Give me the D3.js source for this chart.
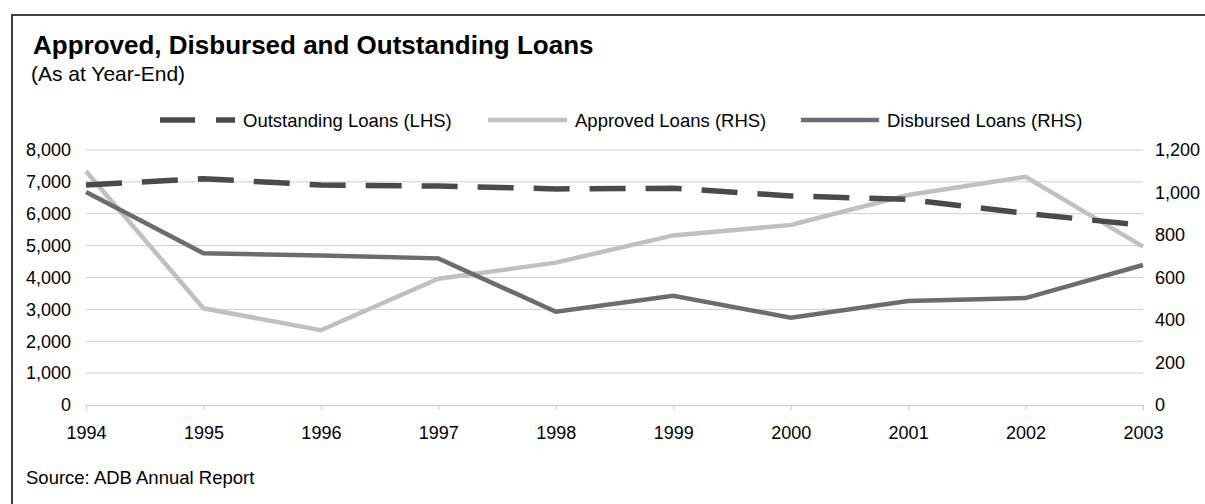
<!DOCTYPE html>
<html><head><meta charset="utf-8">
<script src="https://cdn.jsdelivr.net/npm/d3@7"></script>
<style>body{margin:0;background:#fff}svg{font-family:"Liberation Sans",Arial,sans-serif}</style>
</head><body><svg id="c" width="1205" height="504"></svg>
<script>
const years = [1994,1995,1996,1997,1998,1999,2000,2001,2002,2003];
const outstanding = [6900,7100,6900,6870,6780,6800,6560,6450,6010,5640];
const approved = [1100,455,352,594,670,798,847,988,1074,745];
const disbursed = [1002,714,704,690,439,514,411,489,503,659];
const leftTicks = [0,1000,2000,3000,4000,5000,6000,7000,8000];
const rightTicks = [0,200,400,600,800,1000,1200];

const FF = "Liberation Sans, Arial, sans-serif";
const svg = d3.select("#c");
svg.append("rect").attr("x",12).attr("y",15).attr("width",1210).attr("height",520)
  .attr("fill","#fff").attr("stroke","#404040").attr("stroke-width",2);

svg.append("text").attr("x",33).attr("y",54).attr("font-size",26).attr("font-weight","bold").attr("fill","#000")
  .text("Approved, Disbursed and Outstanding Loans");
svg.append("text").attr("x",31).attr("y",81).attr("font-size",21).attr("fill","#000").text("(As at Year-End)");

const x = d3.scaleLinear().domain([1994,2003]).range([86,1143]);
const yL = d3.scaleLinear().domain([0,8000]).range([405,150]);
const yR = d3.scaleLinear().domain([0,1200]).range([405,150]);

// gridlines
svg.append("g").selectAll("line").data(leftTicks.filter(d=>d>0)).join("line")
  .attr("x1",86).attr("x2",1143).attr("y1",d=>yL(d)).attr("y2",d=>yL(d))
  .attr("stroke","#cfcfcf").attr("stroke-width",1);

// x axis
const xa = svg.append("g").attr("transform","translate(0,405)")
  .call(d3.axisBottom(x).tickValues(years).tickFormat(d3.format("d")).tickSize(5).tickSizeOuter(0).tickPadding(16));
xa.select(".domain").attr("stroke","#c8c8c8");
xa.selectAll(".tick line").attr("stroke","#c8c8c8");
xa.selectAll("text").attr("font-size",18).attr("fill","#000").attr("font-family",FF);

const la = svg.append("g").attr("transform","translate(86,0)")
  .call(d3.axisLeft(yL).tickValues(leftTicks).tickFormat(d3.format(",")).tickSize(0).tickPadding(15));
la.select(".domain").remove();
la.selectAll("text").attr("font-size",18).attr("fill","#000").attr("font-family",FF);

const ra = svg.append("g").attr("transform","translate(1143,0)")
  .call(d3.axisRight(yR).tickValues(rightTicks).tickFormat(d3.format(",")).tickSize(0).tickPadding(12));
ra.select(".domain").remove();
ra.selectAll("text").attr("font-size",18).attr("fill","#000").attr("font-family",FF);

const lineL = d3.line().x((d,i)=>x(years[i])).y(d=>yL(d));
const lineR = d3.line().x((d,i)=>x(years[i])).y(d=>yR(d));

svg.append("path").datum(approved).attr("d",lineR).attr("fill","none").attr("stroke","#c0c0c0").attr("stroke-width",4.5);
svg.append("path").datum(disbursed).attr("d",lineR).attr("fill","none").attr("stroke","#696d71").attr("stroke-width",4.5);
svg.append("path").datum(outstanding).attr("d",lineL).attr("fill","none").attr("stroke","#4a4a4a").attr("stroke-width",5.5).attr("stroke-dasharray","36,20");

// legend
const legend = [
  {name:"Outstanding Loans (LHS)", x1:160, x2:235, color:"#4a4a4a", w:5.5, dash:"35,21"},
  {name:"Approved Loans (RHS)", x1:488, x2:567, color:"#c0c0c0", w:4.5, dash:null},
  {name:"Disbursed Loans (RHS)", x1:801, x2:879, color:"#696d71", w:4.5, dash:null}
];
const lg = svg.append("g");
legend.forEach(l=>{
  lg.append("line").attr("x1",l.x1).attr("x2",l.x2).attr("y1",120).attr("y2",120)
    .attr("stroke",l.color).attr("stroke-width",l.w).attr("stroke-dasharray",l.dash);
  lg.append("text").attr("x",l.x2+8).attr("y",127).attr("font-size",18.5).attr("fill","#000").text(l.name);
});

svg.append("text").attr("x",26).attr("y",484).attr("font-size",18.5).attr("fill","#000").text("Source: ADB Annual Report");
</script></body></html>
